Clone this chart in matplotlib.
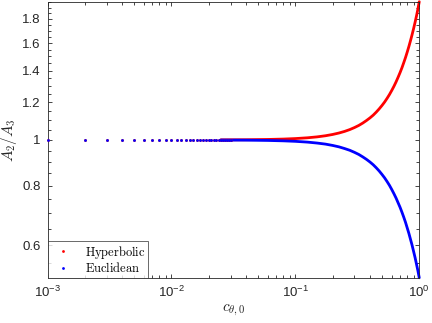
import numpy as np
import matplotlib
matplotlib.use("Agg")
import matplotlib.pyplot as plt
from matplotlib.ticker import FixedLocator, NullFormatter

plt.rcParams['font.family'] = ['Liberation Sans', 'DejaVu Sans']
plt.rcParams['mathtext.fontset'] = 'cm'

# sparse dots on the left (both series sit at 1 here)
c_dots = [0.001, 0.002, 0.003, 0.004, 0.005, 0.006, 0.007, 0.008, 0.009, 0.010,
          0.011, 0.012, 0.013, 0.014, 0.015, 0.016, 0.017, 0.018, 0.019, 0.020,
          0.021, 0.022, 0.023, 0.024, 0.025, 0.026, 0.027, 0.028, 0.029, 0.030]
hyp_dots = [1.0] * len(c_dots)
euc_dots = [1.0] * len(c_dots)

# dense part, where the dots merge into a curve
c_curve = [0.025, 0.04, 0.06, 0.08, 0.1, 0.125, 0.15, 0.175, 0.2, 0.225,
           0.25, 0.275, 0.3, 0.325, 0.35, 0.375, 0.4, 0.425, 0.45, 0.475,
           0.5, 0.525, 0.55, 0.575, 0.6, 0.625, 0.65, 0.675, 0.7, 0.725,
           0.75, 0.775, 0.8, 0.825, 0.85, 0.875, 0.9, 0.925, 0.95, 0.975, 1.0]
hyp_curve = [1.0004, 1.001, 1.0024, 1.0043, 1.0067, 1.0105, 1.0151, 1.0206, 1.027, 1.0343,
             1.0425, 1.0517, 1.062, 1.073, 1.0855, 1.099, 1.113, 1.128, 1.145, 1.163,
             1.182, 1.202, 1.224, 1.247, 1.272, 1.298, 1.326, 1.356, 1.387, 1.42,
             1.456, 1.493, 1.533, 1.575, 1.62, 1.667, 1.717, 1.77, 1.827, 1.888, 1.957]
euc_curve = [0.9996, 0.999, 0.9976, 0.9957, 0.9933, 0.9896, 0.985, 0.98, 0.9737, 0.967,
             0.959, 0.951, 0.9416, 0.932, 0.921, 0.91, 0.8985, 0.8865, 0.8734, 0.86,
             0.846, 0.832, 0.817, 0.802, 0.786, 0.770, 0.754, 0.737, 0.721, 0.704,
             0.687, 0.670, 0.652, 0.635, 0.617, 0.600, 0.582, 0.565, 0.547, 0.530, 0.512]

ytick_vals = [0.6, 0.8, 1, 1.2, 1.4, 1.6, 1.8]
ytick_labels = ['0.6', '0.8', '1', '1.2', '1.4', '1.6', '1.8']
xtick_vals = [1e-3, 1e-2, 1e-1, 1]
xtick_labels = [r'$\mathregular{10^{-3}}$', r'$\mathregular{10^{-2}}$',
                r'$\mathregular{10^{-1}}$', r'$\mathregular{10^{0}}$']

fig = plt.figure(figsize=(4.32, 3.23), dpi=100)
ax = fig.add_axes([0.110, 0.140, 0.8605, 0.8547])

ms = 2.0
lw = 2.0
ax.plot(c_dots, hyp_dots, 'o', color='r', ms=ms, mew=0, label='Hyperbolic',
        clip_on=False, zorder=3)
ax.plot(c_curve, hyp_curve, '-', color='r', lw=lw, clip_on=False,
        solid_capstyle='round')
ax.plot(c_dots, euc_dots, 'o', color='b', ms=ms, mew=0, label='Euclidean',
        clip_on=False, zorder=3)
ax.plot(c_curve, euc_curve, '-', color='b', lw=lw, clip_on=False,
        solid_capstyle='round')

ax.set_xscale('log')
ax.set_yscale('log')
ax.set_xlim(1e-3, 1)
ax.set_ylim(min(euc_curve), max(hyp_curve))

ax.yaxis.set_major_locator(FixedLocator(ytick_vals))
ax.set_yticklabels(ytick_labels)
ax.yaxis.set_minor_locator(FixedLocator(np.arange(0.55, 1.96, 0.05)))
ax.yaxis.set_minor_formatter(NullFormatter())
ax.set_xticks(xtick_vals)
ax.set_xticklabels(xtick_labels)

gray = (0.15, 0.15, 0.15)
for s in ax.spines.values():
    s.set_color(gray)
    s.set_linewidth(0.6)
ax.tick_params(which='both', direction='in', top=True, right=True,
               color=gray, labelcolor=gray, width=0.6, labelsize=9.5)
ax.tick_params(which='major', length=3, pad=5)
ax.tick_params(which='minor', length=2)

ax.set_xlabel(r'$c_{\theta,0}$', fontsize=11, color=gray, labelpad=2)
ax.set_ylabel(r'$A_2/A_3$', fontsize=11, color=gray, labelpad=2)

leg = ax.legend(loc='lower left', borderaxespad=0, fancybox=False,
                prop={'size': 9}, markerscale=1.0,
                handlelength=2.0, handletextpad=0.8, borderpad=0.2,
                labelspacing=0.05)
leg.get_frame().set_edgecolor(gray)
leg.get_frame().set_linewidth(0.6)
leg.set_zorder(5)
for t in leg.get_texts():
    t.set_text(r'$\mathrm{' + t.get_text() + '}$')

fig.savefig('out.png', dpi=100)
